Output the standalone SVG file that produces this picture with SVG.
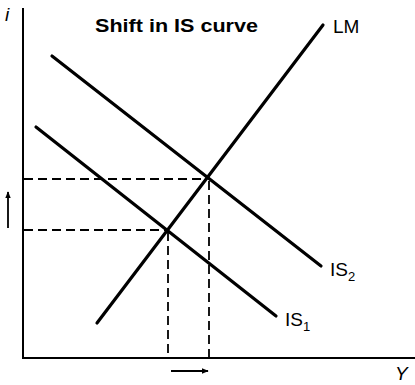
<svg xmlns="http://www.w3.org/2000/svg" width="415" height="385" viewBox="0 0 415 385">
<defs>
<style>
.curve{stroke:#000;stroke-width:3.2;fill:none;stroke-linecap:round}
.axis{stroke:#000;stroke-width:2;fill:none}
.dash{stroke:#000;stroke-width:1.8;fill:none;stroke-dasharray:9,5}
.lbl{font-family:"Liberation Sans",Arial,sans-serif;font-size:19px;fill:#000}
.ital{font-family:"Liberation Sans",Arial,sans-serif;font-size:19px;font-style:italic;fill:#000}
.arr{stroke:#000;stroke-width:1.8;fill:none}
</style>
<marker id="ah" viewBox="0 0 10 10" refX="9" refY="5" markerWidth="4" markerHeight="4" orient="auto"><path d="M0,1 L10,5 L0,9 z" fill="#000"/></marker>
</defs>
<g id="axes">
<path class="axis" d="M23,8 V358 H415"/>
<text class="ital" x="5" y="21">i</text>
<text class="ital" x="395" y="380">Y</text>
</g>
<g id="title"><text class="lbl" x="95" y="32" font-weight="bold" font-size="20" textLength="163" lengthAdjust="spacingAndGlyphs">Shift in IS curve</text></g>
<g id="connectors">
<path class="dash" d="M24,179 H207 M24,230 H166 M168,232 V357 M209,181 V357"/>
<path class="arr" d="M8,228 V192" marker-end="url(#ah)"/>
<path class="arr" d="M171,371 H208" marker-end="url(#ah)"/>
</g>
<g id="LM">
<line class="curve" x1="97" y1="323" x2="323" y2="25"/>
<text class="lbl" x="333" y="33">LM</text>
</g>
<g id="IS2">
<line class="curve" x1="52" y1="56" x2="321" y2="266"/>
<text class="lbl" x="330" y="276">IS<tspan font-size="13" dy="5">2</tspan></text>
</g>
<g id="IS1">
<line class="curve" x1="36" y1="127" x2="276" y2="316"/>
<text class="lbl" x="285" y="326">IS<tspan font-size="13" dy="5">1</tspan></text>
</g>
</svg>
